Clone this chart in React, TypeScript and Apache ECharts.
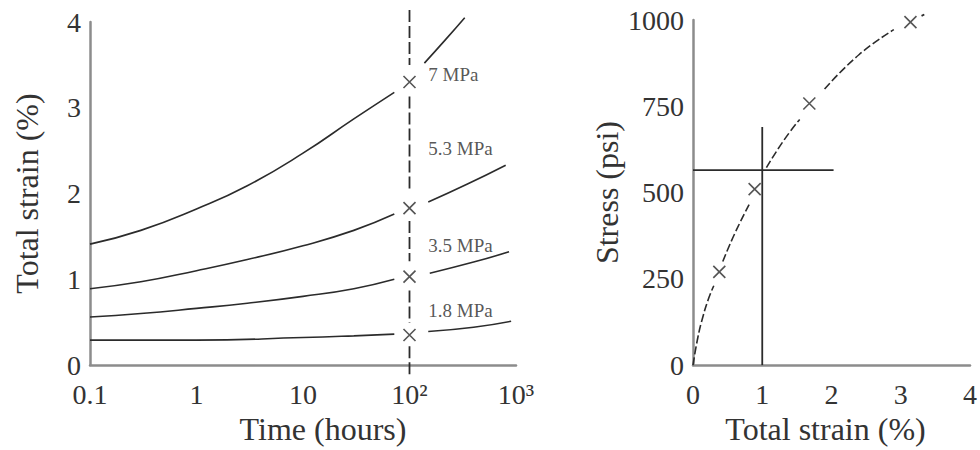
import React, { useEffect, useRef } from "react";
import * as echarts from "echarts";

// ---------- Left panel: creep curves (total strain vs time) ----------
const timeTickLabels = ["0.1", "1", "10", "10²", "10³"];
const strainTicks = [0, 1, 2, 3, 4];

const strain7Early = [[0.1, 1.41], [0.3, 1.57], [1, 1.82], [3, 2.09], [10, 2.47], [30, 2.87], [72, 3.18]];
const strain7Late = [[138, 3.52], [220, 3.8], [330, 4.05]];
const strain53Early = [[0.1, 0.89], [0.3, 0.97], [1, 1.1], [3, 1.23], [10, 1.39], [30, 1.57], [72, 1.76]];
const strain53Late = [[150, 1.9], [350, 2.11], [800, 2.33]];
const strain35Early = [[0.1, 0.56], [0.3, 0.6], [1, 0.66], [3, 0.72], [10, 0.8], [30, 0.89], [72, 1.0]];
const strain35Late = [[155, 1.07], [400, 1.2], [860, 1.32]];
const strain18Early = [[0.1, 0.29], [1, 0.29], [10, 0.32], [30, 0.34], [72, 0.36]];
const strain18Late = [[150, 0.39], [400, 0.44], [900, 0.51]];

const isochronTime = 100;
const isochronStrains = [3.3, 1.83, 1.03, 0.35];
const isochronSegments = [[4.14, 3.5], [3.13, 2.02], [1.68, 1.21], [0.87, 0.49], [0.22, -0.13]];

const stressLabels = ["7 MPa", "5.3 MPa", "3.5 MPa", "1.8 MPa"];
const stressLabelStrain = [3.39, 2.52, 1.39, 0.64];
const stressLabelTime = 150;

// ---------- Right panel: isochronous stress-strain curve ----------
const isoStrainTicks = [0, 1, 2, 3, 4];
const isoStressTicks = [0, 250, 500, 750, 1000];
const isoCurveSeg1 = [[0, 0], [0.07, 80], [0.14, 138], [0.22, 190], [0.3, 230]];
const isoCurveSeg2 = [[0.43, 300], [0.6, 380], [0.81, 465]];
const isoCurveSeg3 = [[1.06, 572], [1.3, 648], [1.54, 712]];
const isoCurveSeg4 = [[1.9, 800], [2.4, 900], [2.9, 972]];
const isoCurveDot = [[3.3, 1012], [3.34, 1016]];
const isoPoints = [[0.38, 270], [0.89, 510], [1.68, 758], [3.14, 994]];
const designStress = 565;
const designStrain = 1;
const designHLineStrain = [0, 2.03];
const designVLineStress = [0, 690];

const FONT = "Liberation Serif";
const TXT = "#333333";
const INK = "#2b2b2b";
const AXIS = "#8c8c8c";
const CROSS = "path://M0,0L10,10M10,0L0,10";

export default function App() {
  const ref = useRef<HTMLDivElement>(null);
  useEffect(() => {
    if (!ref.current) return;
    const chart = echarts.init(ref.current, undefined, { renderer: "svg" });

    const curve = (data: number[][], xi: number, dash: any = "solid", width = 1.6) => ({
      type: "line",
      xAxisIndex: xi,
      yAxisIndex: xi,
      data,
      smooth: true,
      showSymbol: false,
      symbol: "none",
      clip: false,
      lineStyle: { color: INK, width, type: dash },
      silent: true,
    });

    const leftCurves = [
      strain7Early, strain7Late, strain53Early, strain53Late,
      strain35Early, strain35Late, strain18Early, strain18Late,
    ].map((d) => curve(d, 0));

    const isoLines = isochronSegments.map((s) => ({
      type: "line",
      xAxisIndex: 0,
      yAxisIndex: 0,
      data: s.map((v) => [isochronTime, v]),
      showSymbol: false,
      symbol: "none",
      clip: false,
      lineStyle: { color: INK, width: 1.8, type: [12, 4] },
      silent: true,
    }));

    const crossStyle = { color: "none", borderColor: INK, borderWidth: 1.6 };
    const xLabel = { color: TXT, fontFamily: FONT, fontSize: 28, margin: 15 };
    const yLabel = { color: TXT, fontFamily: FONT, fontSize: 28, margin: 9 };

    const option: any = {
      animation: false,
      backgroundColor: "#ffffff",
      textStyle: { fontFamily: FONT },
      grid: [
        { left: 90, right: 464, top: 22, bottom: 83 },
        { left: 693, right: 4, top: 20, bottom: 83 },
      ],
      xAxis: [
        {
          gridIndex: 0,
          type: "log",
          logBase: 10,
          min: 0.1,
          max: 1000,
          axisLine: { lineStyle: { color: AXIS, width: 2.5 } },
          axisTick: { show: false },
          splitLine: { show: false },
          minorTick: { show: false },
          axisLabel: {
            ...xLabel,
            formatter: (v: number) => timeTickLabels[Math.round(Math.log10(v)) + 1],
          },
          name: "Time (hours)",
          nameLocation: "middle",
          nameGap: 48,
          nameTextStyle: { color: TXT, fontFamily: FONT, fontSize: 32, padding: [0, 0, 0, 40] },
        },
        {
          gridIndex: 1,
          type: "value",
          min: isoStrainTicks[0],
          max: isoStrainTicks[isoStrainTicks.length - 1],
          interval: 1,
          axisLine: { lineStyle: { color: AXIS, width: 2.5 } },
          axisTick: { show: false },
          splitLine: { show: false },
          axisLabel: { ...xLabel, formatter: (v: number) => String(v) },
          name: "Total strain (%)",
          nameLocation: "middle",
          nameGap: 41,
          nameTextStyle: { color: TXT, fontFamily: FONT, fontSize: 32, padding: [0, 12, 0, 0] },
        },
      ],
      yAxis: [
        {
          gridIndex: 0,
          type: "value",
          min: strainTicks[0],
          max: strainTicks[strainTicks.length - 1],
          interval: 1,
          axisLine: { show: true, lineStyle: { color: AXIS, width: 2.5 } },
          axisTick: { show: false },
          splitLine: { show: false },
          axisLabel: { ...yLabel, formatter: (v: number) => String(v) },
          name: "Total strain (%)",
          nameLocation: "middle",
          nameGap: 47,
          nameTextStyle: { color: TXT, fontFamily: FONT, fontSize: 32 },
        },
        {
          gridIndex: 1,
          type: "value",
          min: isoStressTicks[0],
          max: isoStressTicks[isoStressTicks.length - 1],
          interval: 250,
          axisLine: { show: true, lineStyle: { color: AXIS, width: 2.5 } },
          axisTick: { show: false },
          splitLine: { show: false },
          axisLabel: { ...yLabel, formatter: (v: number) => String(v) },
          name: "Stress (psi)",
          nameLocation: "middle",
          nameGap: 70,
          nameTextStyle: { color: TXT, fontFamily: FONT, fontSize: 32 },
        },
      ],
      series: [
        ...leftCurves,
        ...isoLines,
        {
          type: "scatter",
          xAxisIndex: 0,
          yAxisIndex: 0,
          data: isochronStrains.map((s) => [isochronTime, s]),
          symbol: CROSS,
          symbolSize: 12,
          itemStyle: crossStyle,
          silent: true,
        },
        {
          type: "scatter",
          xAxisIndex: 0,
          yAxisIndex: 0,
          data: stressLabels.map((n, i) => ({ value: [stressLabelTime, stressLabelStrain[i]], name: n })),
          symbolSize: 0,
          label: {
            show: true,
            position: "right",
            distance: 0,
            formatter: (p: any) => p.name,
            color: INK,
            fontFamily: FONT,
            fontSize: 19,
          },
          silent: true,
        },
        curve(isoCurveSeg1, 1, [8, 3], 1.6),
        curve(isoCurveSeg2, 1, [8, 3], 1.6),
        curve(isoCurveSeg3, 1, [8, 3], 1.6),
        curve(isoCurveSeg4, 1, [8, 3], 1.6),
        curve(isoCurveDot, 1, "solid", 1.8),
        {
          type: "line",
          xAxisIndex: 1,
          yAxisIndex: 1,
          data: designHLineStrain.map((x) => [x, designStress]),
          showSymbol: false,
          symbol: "none",
          lineStyle: { color: INK, width: 1.8 },
          silent: true,
        },
        {
          type: "line",
          xAxisIndex: 1,
          yAxisIndex: 1,
          data: designVLineStress.map((y) => [designStrain, y]),
          showSymbol: false,
          symbol: "none",
          lineStyle: { color: INK, width: 1.8 },
          silent: true,
        },
        {
          type: "scatter",
          xAxisIndex: 1,
          yAxisIndex: 1,
          data: isoPoints,
          symbol: CROSS,
          symbolSize: 12,
          itemStyle: crossStyle,
          silent: true,
        },
      ],
    };
    chart.setOption(option);
    return () => chart.dispose();
  }, []);
  return <div ref={ref} style={{ width: 980, height: 450, position: "absolute", left: 0, top: 0 }} />;
}
